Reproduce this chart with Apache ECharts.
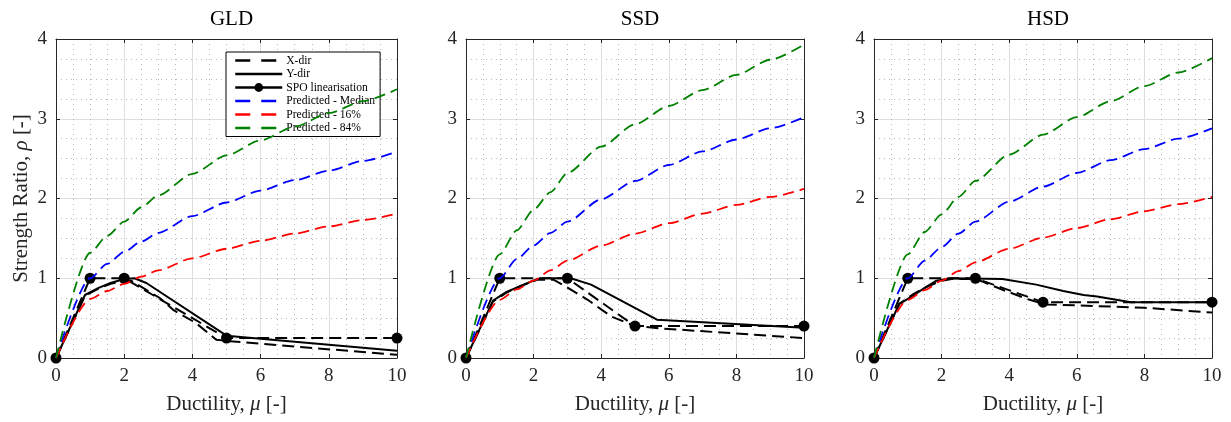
<!DOCTYPE html>
<html><head><meta charset="utf-8">
<script src="https://cdn.jsdelivr.net/npm/echarts@6/dist/echarts.min.js"></script>
<style>html,body{margin:0;padding:0;background:#fff}#c{width:1231px;height:422px}</style>
</head><body><div id="c"></div>
<script>
// ---------- DATA ----------
const panelTitles = ['GLD', 'SSD', 'HSD'];
const xTickLabels = [0, 2, 4, 6, 8, 10];
const yTickLabels = [0, 1, 2, 3, 4];
const seriesNames = ['X-dir', 'Y-dir', 'SPO linearisation', 'Predicted - Median', 'Predicted - 16%', 'Predicted - 84%'];

// ductility values at which the predicted curves were read
const muPred = [0, 1, 1.5, 2, 2.5, 3, 4, 5, 6, 7, 8, 9, 10];

// GLD
const gldMedian = [0, 1.00, 1.18, 1.33, 1.46, 1.57, 1.78, 1.95, 2.10, 2.23, 2.35, 2.47, 2.59];
const gld16     = [0, 0.74, 0.84, 0.93, 1.02, 1.10, 1.25, 1.37, 1.47, 1.56, 1.65, 1.73, 1.81];
const gld84     = [0, 1.32, 1.53, 1.71, 1.89, 2.04, 2.31, 2.54, 2.73, 2.90, 3.07, 3.22, 3.37];
const gldXdir = [[0,0],[0.85,0.78],[1.25,0.87],[1.6,0.93],[2.0,0.97],[2.2,0.97],[3.05,0.75],[3.45,0.6],[4.1,0.44],[4.7,0.23],[5.1,0.21],[10,0.04]];
const gldYdir = [[0,0],[0.85,0.79],[1.25,0.88],[1.6,0.94],[2.0,0.99],[2.3,1.0],[2.65,0.94],[5.0,0.28],[10,0.09]];
const gldSpo  = [[0,0],[1,1],[2,1],[5,0.25],[10,0.25]];

// SSD
const ssdMedian = [0, 1.00, 1.24, 1.41, 1.57, 1.71, 1.99, 2.22, 2.42, 2.59, 2.74, 2.88, 3.02];
const ssd16     = [0, 0.73, 0.86, 0.97, 1.10, 1.22, 1.41, 1.56, 1.69, 1.81, 1.92, 2.02, 2.12];
const ssd84     = [0, 1.30, 1.60, 1.86, 2.08, 2.32, 2.65, 2.93, 3.16, 3.36, 3.55, 3.74, 3.93];
const ssdXdir = [[0,0],[0.8,0.71],[1.2,0.82],[1.6,0.9],[2.1,0.98],[2.6,0.98],[2.9,0.91],[3.6,0.73],[4.3,0.52],[5.0,0.4],[5.8,0.37],[10,0.25]];
const ssdYdir = [[0,0],[0.8,0.72],[1.2,0.83],[1.6,0.9],[2.1,0.99],[2.3,1.0],[3.1,1.0],[3.7,0.92],[5.65,0.48],[10,0.38]];
const ssdSpo  = [[0,0],[1,1],[3,1],[5,0.4],[10,0.4]];

// HSD
const hsdMedian = [0, 1.00, 1.22, 1.39, 1.56, 1.71, 1.96, 2.15, 2.32, 2.48, 2.62, 2.75, 2.88];
const hsd16     = [0, 0.73, 0.85, 0.97, 1.09, 1.20, 1.37, 1.51, 1.63, 1.74, 1.84, 1.93, 2.02];
const hsd84     = [0, 1.30, 1.58, 1.80, 2.02, 2.22, 2.55, 2.80, 3.02, 3.22, 3.41, 3.58, 3.76];
const hsdXdir = [[0,0],[0.75,0.68],[1.2,0.81],[1.6,0.9],[2.0,0.97],[2.3,0.99],[3.0,0.99],[3.2,0.96],[3.9,0.84],[4.6,0.73],[5.1,0.67],[6,0.66],[8,0.63],[10,0.57]];
const hsdYdir = [[0,0],[0.75,0.68],[1.15,0.78],[1.5,0.88],[1.85,0.97],[2.3,1.0],[3.8,0.99],[4.8,0.92],[5.6,0.84],[6.2,0.79],[6.6,0.77],[7.6,0.7],[10,0.7]];
const hsdSpo  = [[0,0],[1,1],[3,1],[5,0.7],[10,0.7]];

// ---------- BUILD ----------
const panels = [
  {xdir: gldXdir, ydir: gldYdir, spo: gldSpo, med: gldMedian, p16: gld16, p84: gld84},
  {xdir: ssdXdir, ydir: ssdYdir, spo: ssdSpo, med: ssdMedian, p16: ssd16, p84: ssd84},
  {xdir: hsdXdir, ydir: hsdYdir, spo: hsdSpo, med: hsdMedian, p16: hsd16, p84: hsd84}
];
const gridBoxes = [
  {left: 56, top: 39, width: 341, height: 319},
  {left: 466, top: 39, width: 338, height: 319},
  {left: 874, top: 39, width: 338, height: 319}
];
const FONT = '"Liberation Serif", "DejaVu Serif", serif';
const AX = '#262626';
const pair = (xs, ys) => xs.map((x, i) => [x, ys[i]]);

const grid = [], xAxis = [], yAxis = [], series = [], title = [];
const xMin = xTickLabels[0], xMax = xTickLabels[xTickLabels.length - 1], xInt = xTickLabels[1] - xTickLabels[0];
const yMin = yTickLabels[0], yMax = yTickLabels[yTickLabels.length - 1], yInt = yTickLabels[1] - yTickLabels[0];

panels.forEach((p, i) => {
  const g = gridBoxes[i];
  grid.push(Object.assign({outerBoundsMode: 'none', containLabel: false, show: false}, g));
  title.push({
    text: panelTitles[i], left: g.left + g.width / 2, top: 4, textAlign: 'center',
    textStyle: {fontFamily: FONT, fontSize: 21, fontWeight: 'normal', color: '#000'}
  });
  const common = {
    gridIndex: i, type: 'value',
    axisLine: {show: true, onZero: false, lineStyle: {color: AX, width: 1}},
    axisTick: {show: true, inside: true, length: 4, lineStyle: {color: AX}}
  };
  xAxis.push(Object.assign({}, common, {
    position: 'bottom', min: xMin, max: xMax, interval: xInt,
    axisLabel: {show: true, margin: 9, fontFamily: FONT, fontSize: 19, color: AX},
    splitLine: {show: true, lineStyle: {color: '#dedede', width: 1}},
    minorTick: {show: false, splitNumber: 4},
    minorSplitLine: {show: true, lineStyle: {color: '#b8b8b8', width: 1, type: [1, 4]}},
    name: 'Ductility, {i|μ} [-]', nameLocation: 'middle', nameGap: 36,
    nameTextStyle: {fontFamily: FONT, fontSize: 21, color: AX,
      rich: {i: {fontFamily: FONT, fontSize: 21, fontStyle: 'italic', color: AX}}}
  }));
  xAxis.push(Object.assign({}, common, {
    position: 'top', min: xMin, max: xMax, interval: xInt,
    axisLabel: {show: false}, splitLine: {show: false}
  }));
  const yLeft = Object.assign({}, common, {
    position: 'left', min: yMin, max: yMax, interval: yInt,
    axisLabel: {show: true, margin: 9, fontFamily: FONT, fontSize: 19, color: AX},
    splitLine: {show: true, lineStyle: {color: '#dedede', width: 1}},
    minorTick: {show: false, splitNumber: 4},
    minorSplitLine: {show: true, lineStyle: {color: '#b8b8b8', width: 1, type: [1, 4]}}
  });
  if (i === 0) {
    Object.assign(yLeft, {
      name: 'Strength Ratio, {i|ρ} [-]', nameLocation: 'middle', nameGap: 24,
      nameTextStyle: {fontFamily: FONT, fontSize: 21, color: AX,
        rich: {i: {fontFamily: FONT, fontSize: 21, fontStyle: 'italic', color: AX}}}
    });
  }
  yAxis.push(yLeft);
  yAxis.push(Object.assign({}, common, {
    position: 'right', min: yMin, max: yMax, interval: yInt,
    axisLabel: {show: false}, splitLine: {show: false}
  }));

  const xi = 2 * i, yi = 2 * i;
  const blackDash = [12, 6];
  series.push({
    name: seriesNames[0], type: 'line', xAxisIndex: xi, yAxisIndex: yi, data: p.xdir,
    symbol: 'none', lineStyle: {color: '#000', width: 2, type: blackDash}, itemStyle: {color: '#000'}, z: 2
  });
  series.push({
    name: seriesNames[1], type: 'line', xAxisIndex: xi, yAxisIndex: yi, data: p.ydir,
    symbol: 'none', lineStyle: {color: '#000', width: 2, type: 'solid'}, itemStyle: {color: '#000'}, z: 2
  });
  series.push({
    name: seriesNames[2], type: 'line', xAxisIndex: xi, yAxisIndex: yi, data: p.spo,
    symbol: 'circle', symbolSize: 11, showSymbol: true,
    lineStyle: {color: '#000', width: 2, type: blackDash},
    itemStyle: {color: '#000', borderColor: '#000', borderWidth: 0}, z: 3
  });
  const cols = [['#0000ff', p.med], ['#ff0000', p.p16], ['#008000', p.p84]];
  cols.forEach((c, k) => {
    series.push({
      name: seriesNames[3 + k], type: 'line', xAxisIndex: xi, yAxisIndex: yi, data: pair(muPred, c[1]),
      symbol: 'none', smooth: 0.25, smoothMonotone: 'x',
      lineStyle: {color: c[0], width: 1.8, type: [11, 6]}, itemStyle: {color: c[0]}, z: 4
    });
  });
});

const hidden = {color: 'rgba(0,0,0,0)', borderColor: 'rgba(0,0,0,0)', borderWidth: 0, opacity: 0};
const legend = {
  orient: 'vertical', left: 226, top: 52,
  backgroundColor: '#fff', borderColor: '#000', borderWidth: 1,
  padding: [2, 5, 2, 8], itemWidth: 47, itemHeight: 11, itemGap: 0.5,
  textStyle: {fontFamily: FONT, fontSize: 11.6, lineHeight: 13, color: '#000', padding: [0, 0, 0, -1]},
  selectedMode: false,
  data: [
    {name: seriesNames[0], itemStyle: hidden, lineStyle: {type: [15, 11], width: 2.5}},
    {name: seriesNames[1], itemStyle: hidden, lineStyle: {width: 2.5}},
    {name: seriesNames[2], lineStyle: {type: 'solid', width: 2.5}},
    {name: seriesNames[3], itemStyle: hidden, lineStyle: {type: [15, 11], width: 2.5}},
    {name: seriesNames[4], itemStyle: hidden, lineStyle: {type: [15, 11], width: 2.5}},
    {name: seriesNames[5], itemStyle: hidden, lineStyle: {type: [15, 11], width: 2.5}}
  ]
};

const chart = echarts.init(document.getElementById('c'), null, {renderer: 'canvas'});
chart.setOption({
  animation: false, backgroundColor: '#fff',
  title, grid, xAxis, yAxis, series, legend, tooltip: {show: false}
});
</script></body></html>
